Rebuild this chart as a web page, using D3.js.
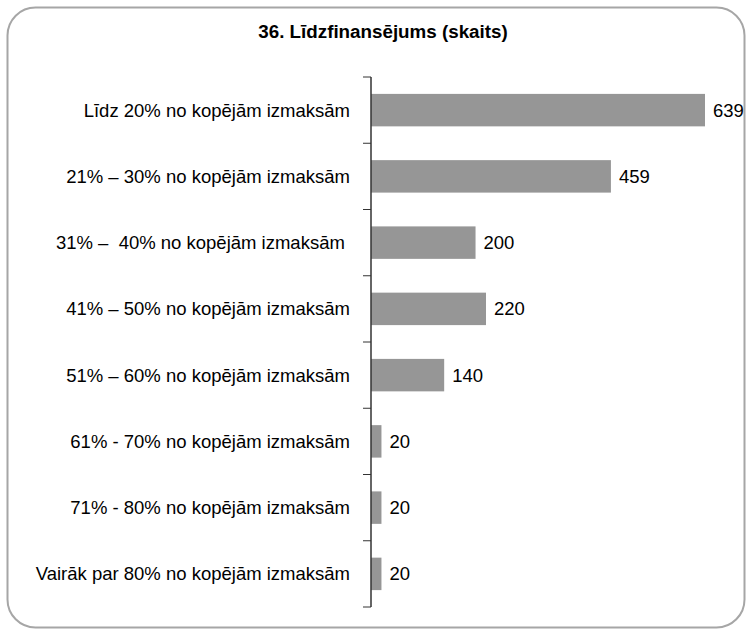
<!DOCTYPE html>
<html>
<head>
<meta charset="utf-8">
<script src="https://cdn.jsdelivr.net/npm/d3@7/dist/d3.min.js"></script>
<style>
  html, body { margin: 0; padding: 0; background: #fff; }
  svg text { font-family: "Liberation Sans", Arial, sans-serif; }
</style>
</head>
<body>
<svg id="chart" width="751" height="635"></svg>
<script>
const categories = [
  "Līdz 20% no kopējām izmaksām",
  "21% – 30% no kopējām izmaksām",
  "31% –  40% no kopējām izmaksām ",
  "41% – 50% no kopējām izmaksām",
  "51% – 60% no kopējām izmaksām",
  "61% - 70% no kopējām izmaksām",
  "71% - 80% no kopējām izmaksām",
  "Vairāk par 80% no kopējām izmaksām"
];
const values = [639, 459, 200, 220, 140, 20, 20, 20];
const title = "36. Līdzfinansējums (skaits)";

const svg = d3.select("#chart");

// outer frame
svg.append("rect")
  .attr("x", 7.5).attr("y", 7.5)
  .attr("width", 737).attr("height", 620)
  .attr("rx", 28).attr("ry", 28)
  .attr("fill", "#fff")
  .attr("stroke", "#a6a6a6")
  .attr("stroke-width", 2);

svg.append("text")
  .attr("x", 383).attr("y", 38)
  .attr("text-anchor", "middle")
  .attr("font-size", 18.8)
  .attr("font-weight", "bold")
  .attr("fill", "#000")
  .text(title);

const x0 = 371;
const x = d3.scaleLinear().domain([0, 639]).range([x0, 705]);
const y = d3.scaleBand().domain(categories).range([77, 607]).paddingInner(0.51).paddingOuter(0.255);

// bars
svg.append("g").selectAll("rect")
  .data(values)
  .join("rect")
  .attr("x", x(0))
  .attr("y", (d, i) => y(categories[i]))
  .attr("width", d => x(d) - x(0))
  .attr("height", y.bandwidth())
  .attr("fill", "#969696");

// value labels
svg.append("g").selectAll("text")
  .data(values)
  .join("text")
  .attr("x", d => x(d) + 8)
  .attr("y", (d, i) => y(categories[i]) + y.bandwidth() / 2)
  .attr("dy", "0.35em")
  .attr("font-size", 18.5)
  .attr("fill", "#000")
  .text(d => d);

// category axis with ticks at band boundaries
const bounds = d3.range(categories.length + 1).map(i => 77 + i * (530 / categories.length));
const axisG = svg.append("g");
axisG.append("line")
  .attr("x1", x0).attr("x2", x0)
  .attr("y1", bounds[0]).attr("y2", bounds[bounds.length - 1])
  .attr("stroke", "#333").attr("stroke-width", 1.5);
axisG.selectAll("line.tick")
  .data(bounds)
  .join("line")
  .attr("class", "tick")
  .attr("x1", x0 - 8).attr("x2", x0)
  .attr("y1", d => d).attr("y2", d => d)
  .attr("stroke", "#333").attr("stroke-width", 1);

axisG.selectAll("text")
  .data(categories)
  .join("text")
  .attr("x", 350)
  .attr("y", d => y(d) + y.bandwidth() / 2)
  .attr("dy", "0.35em")
  .attr("text-anchor", "end")
  .attr("font-size", 18.5)
  .attr("fill", "#000")
  .style("white-space", "pre")
  .text(d => d);
</script>
</body>
</html>
